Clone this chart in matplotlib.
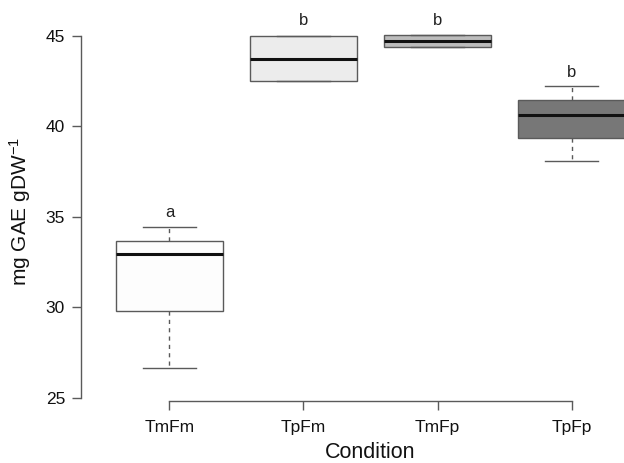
import matplotlib
matplotlib.use("Agg")
import matplotlib.pyplot as plt

plt.rcParams['font.family'] = ['Liberation Sans', 'DejaVu Sans']
plt.rcParams['mathtext.fontset'] = 'custom'
plt.rcParams['mathtext.rm'] = 'Liberation Sans'
plt.rcParams['mathtext.it'] = 'Liberation Sans'

# data
conditions = ["TmFm", "TpFm", "TmFp", "TpFp"]
whis_lo = [26.67, 42.51, 44.41, 38.11]
q1      = [29.81, 42.51, 44.41, 39.38]
median  = [32.96, 43.73, 44.72, 40.65]
q3      = [33.67, 45.00, 45.05, 41.46]
whis_hi = [34.43, 45.00, 45.05, 42.25]
letters = ["a", "b", "b", "b"]
letter_y = [35.24, 45.88, 45.88, 43.01]
fills = ["#fdfdfd", "#ececec", "#bcbcbc", "#777777"]

stats = []
for i in range(len(conditions)):
    stats.append(dict(label=conditions[i], whislo=whis_lo[i], q1=q1[i],
                      med=median[i], q3=q3[i], whishi=whis_hi[i], fliers=[]))

fig = plt.figure(figsize=(6.24, 4.63), dpi=100)
# plot region runs past the right edge, like the cropped original
ax = fig.add_axes([81/624, 62/463, 579/624, 401/463])

edge = "#5a5a5a"
pos = list(range(1, len(conditions) + 1))
bp = ax.bxp(stats, positions=pos, widths=0.8, capwidths=0.4, patch_artist=True,
            showfliers=False,
            boxprops=dict(edgecolor=edge, linewidth=1.0),
            whiskerprops=dict(color=edge, linewidth=1.0, linestyle=(0, (3, 3))),
            capprops=dict(color=edge, linewidth=1.0),
            medianprops=dict(color="#111111", linewidth=2.2, solid_capstyle="butt"))
for patch, c in zip(bp["boxes"], fills):
    patch.set_facecolor(c)

for x, t, y in zip(pos, letters, letter_y):
    ax.text(x, y, t, ha="center", va="center", fontsize=12, color="#222222")

ax.set_xlim(0.34, 4.66)
ax.set_ylim(24.83, 46.99)
ax.set_yticks([25, 30, 35, 40, 45])
ax.set_xticks(pos)
ax.set_xticklabels(conditions)

for s in ["top", "right"]:
    ax.spines[s].set_visible(False)
ax.spines["left"].set_bounds(25, 45)
ax.spines["bottom"].set_bounds(1, 4)
for s in ["left", "bottom"]:
    ax.spines[s].set_color(edge)
    ax.spines[s].set_linewidth(1.0)
ax.tick_params(direction="out", length=6.5, width=1.0, color=edge,
               labelsize=12.5, labelcolor="#111111", pad=5)
ax.tick_params(axis="x", pad=7)

ax.set_xlabel("Condition", fontsize=15.5, labelpad=5, color="#111111")
ax.set_ylabel("mg GAE gDW$^{-1}$", fontsize=15, color="#111111")
ax.yaxis.set_label_coords(-0.083, 0.474)

fig.savefig("out.png", dpi=100)
